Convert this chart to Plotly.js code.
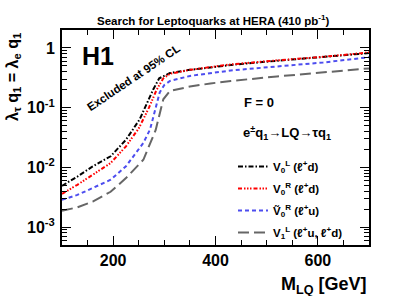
<!DOCTYPE html>
<html>
<head>
<meta charset="utf-8">
<script src="https://cdn.plot.ly/plotly-3.0.1.min.js"></script>
<style>html,body{margin:0;padding:0;background:#fff;}#chart{width:411px;height:296px;}</style>
</head>
<body>
<div id="chart"></div>
<script>
// ---- data ----
const massV0L = [100, 130, 160, 195, 225, 252, 278, 290, 311, 350, 390, 430, 520, 610, 700];
const limitV0L = [0.0049, 0.0070, 0.0104, 0.0153, 0.029, 0.064, 0.20, 0.31, 0.38, 0.43, 0.47, 0.52, 0.61, 0.70, 0.82];

const massV0R = [100, 130, 160, 195, 225, 250, 270, 285, 298, 311, 350, 390, 430, 520, 610, 700];
const limitV0R = [0.0036, 0.0051, 0.0075, 0.0118, 0.0225, 0.045, 0.10, 0.20, 0.31, 0.37, 0.43, 0.475, 0.53, 0.62, 0.71, 0.84];

const massV0Rt = [100, 130, 160, 195, 225, 259, 272, 280, 291, 300, 311, 350, 390, 430, 520, 610, 700];
const limitV0Rt = [0.00285, 0.00345, 0.0045, 0.0062, 0.0104, 0.0257, 0.043, 0.078, 0.18, 0.24, 0.28, 0.34, 0.38, 0.42, 0.49, 0.57, 0.70];

const massV1L = [100, 130, 160, 195, 225, 259, 283, 298, 311, 350, 390, 430, 520, 610, 700];
const limitV1L = [0.00187, 0.00214, 0.00266, 0.0039, 0.0066, 0.0134, 0.042, 0.138, 0.19, 0.226, 0.254, 0.28, 0.333, 0.39, 0.455];

const seriesNames = [
  'V<sub>0</sub><sup>L</sup> (ℓ<sup>+</sup>d)',
  'V<sub>0</sub><sup>R</sup> (ℓ<sup>+</sup>d)',
  'V\u0303<sub>0</sub><sup>R</sup> (ℓ<sup>+</sup>u)',
  'V<sub>1</sub><sup>L</sup> (ℓ<sup>+</sup>u, ℓ<sup>+</sup>d)'
];
const xTickVals = [200, 400, 600];
const yTickVals = [0.001, 0.01, 0.1, 1];
const yTickText = ['10<sup>-3</sup>', '10<sup>-2</sup>', '10<sup>-1</sup>', '1'];

// ---- chart ----
const FONT = 'Liberation Sans, Arial, Helvetica, sans-serif';
function tr(x, y, name, color, dash, group) {
  return {x: x, y: y, name: name, type: 'scatter', mode: 'lines', legendgroup: group,
          line: {color: color, width: 2, dash: dash}};
}
const traces = [
  tr(massV0L, limitV0L, seriesNames[0], '#000000', '5px,2px,1.5px,2px', 'a'),
  tr(massV0R, limitV0R, seriesNames[1], '#ff0000', '4px,2px,1.5px,1.5px,1.5px,1.5px,1.5px,2px', 'b'),
  tr(massV0Rt, limitV0Rt, seriesNames[2], '#4d4def', '4px,3px', 'c'),
  tr(massV1L, limitV1L, seriesNames[3], '#666666', '11px,5px', 'd')
];

const L = 62, R = 369, T = 30, B = 245;
const W = 411, H = 296;
const px = (x) => (x - L) / (R - L);
const py = (y) => (B - y) / (B - T);

const layout = {
  width: W, height: H,
  margin: {l: L, r: W - R, t: T, b: H - B, pad: 0},
  paper_bgcolor: '#ffffff', plot_bgcolor: '#ffffff',
  font: {family: FONT, color: '#000', weight: 'bold'},
  showlegend: true,
  legend: {
    x: px(233), y: py(152), xanchor: 'left', yanchor: 'top',
    bgcolor: 'rgba(0,0,0,0)', borderwidth: 0,
    font: {family: FONT, size: 11.5, color: '#000', weight: 'bold'},
    itemwidth: 30, tracegroupgap: 3, traceorder: 'grouped'
  },
  xaxis: {
    type: 'linear', range: [100, 700],
    tickvals: xTickVals, ticks: 'inside', ticklen: 9, tickwidth: 1, tickcolor: '#000',
    showline: true, linecolor: '#000', linewidth: 2, mirror: 'ticks',
    showgrid: false, zeroline: false,
    tickfont: {family: FONT, size: 16, color: '#000', weight: 'bold'},
    ticklabelstandoff: 0,
    minor: {dtick: 50, tick0: 0, ticks: 'inside', ticklen: 5, tickcolor: '#000', showgrid: false}
  },
  yaxis: {
    type: 'log', range: [Math.log10(5e-4), Math.log10(2)],
    tickvals: yTickVals, ticktext: yTickText,
    ticks: 'inside', ticklen: 9, tickwidth: 1, tickcolor: '#000',
    showline: true, linecolor: '#000', linewidth: 2, mirror: 'ticks',
    showgrid: false, zeroline: false,
    tickfont: {family: FONT, size: 16, color: '#000', weight: 'bold'},
    ticklabelstandoff: 2,
    minor: {dtick: 'D1', ticks: 'inside', ticklen: 5, tickcolor: '#000', showgrid: false}
  },
  annotations: [
    {text: 'Search for Leptoquarks at HERA (410 pb<sup>-1</sup>)', xref: 'paper', yref: 'paper',
     x: px(213), y: py(20), xanchor: 'center', yanchor: 'middle', showarrow: false,
     font: {family: FONT, size: 11.5, weight: 'bold'}},
    {text: 'λ<sub>τ</sub> q<sub>1</sub> = λ<sub>e</sub> q<sub>1</sub>', xref: 'paper', yref: 'paper',
     x: px(13), y: py(77), xanchor: 'center', yanchor: 'middle', textangle: -90, showarrow: false,
     font: {family: FONT, size: 16, weight: 'bold'}},
    {text: 'H1', xref: 'paper', yref: 'paper', x: px(98), y: py(56), xanchor: 'center', yanchor: 'middle',
     showarrow: false, font: {family: FONT, size: 25, weight: 'bold'}},
    {text: 'Excluded at 95% CL', xref: 'paper', yref: 'paper', x: px(133), y: py(78),
     xanchor: 'center', yanchor: 'middle', textangle: -34, showarrow: false,
     font: {family: FONT, size: 11.5, weight: 'bold'}},
    {text: 'F = 0', xref: 'paper', yref: 'paper', x: px(242), y: py(102), xanchor: 'left', yanchor: 'middle',
     showarrow: false, font: {family: FONT, size: 13, weight: 'bold'}},
    {text: 'e<sup>±</sup>q<sub>1</sub>→LQ→τq<sub>1</sub>', xref: 'paper', yref: 'paper', x: px(241), y: py(133),
     xanchor: 'left', yanchor: 'middle', showarrow: false, font: {family: FONT, size: 13, weight: 'bold'}},
    {text: 'M<sub>LQ</sub> [GeV]', xref: 'paper', yref: 'paper', x: 1, y: py(285), xanchor: 'right', yanchor: 'middle',
     showarrow: false, font: {family: FONT, size: 18, weight: 'bold'}}
  ]
};

Plotly.newPlot('chart', traces, layout, {displayModeBar: false, staticPlot: true});
</script>
</body>
</html>
